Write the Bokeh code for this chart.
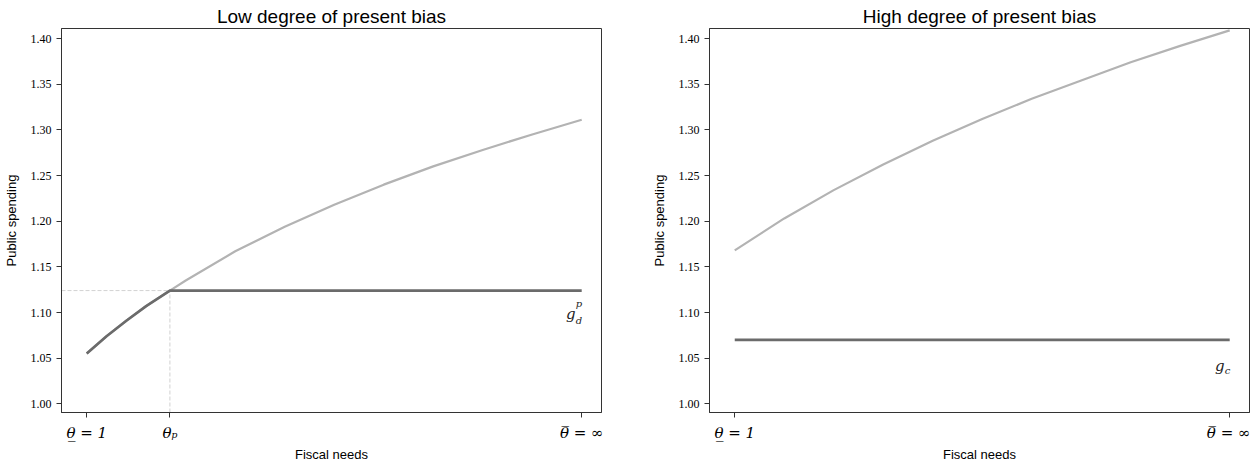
from bokeh.plotting import figure
from bokeh.layouts import row
from bokeh.models import FixedTicker, PrintfTickFormatter, Range1d
from bokeh.core.properties import value
from bokeh.embed import file_html
from bokeh.resources import INLINE

# ---------------- data ----------------
# normalised fiscal-needs axis: 0 = theta_low (=1), 1 = theta_bar (=inf)
x_low = [0.0, 0.04, 0.08, 0.12, 0.168, 0.2, 0.3, 0.4, 0.5, 0.6, 0.7, 0.8, 0.9, 1.0]
g_low_unconstrained = [1.055, 1.074, 1.091, 1.107, 1.124, 1.135, 1.167, 1.194,
                       1.218, 1.240, 1.260, 1.278, 1.295, 1.311]
theta_p = 0.168
g_low_cap = 1.124

x_high = [0.0, 0.1, 0.2, 0.3, 0.4, 0.5, 0.6, 0.7, 0.8, 0.9, 1.0]
g_high_unconstrained = [1.168, 1.203, 1.234, 1.262, 1.288, 1.312, 1.334,
                        1.354, 1.374, 1.392, 1.409]
g_high_c = 1.070

x_ticks_low = [0.0, theta_p, 1.0]
x_labels_low = ["θ̲ = 1", "θₚ", "θ̅ = ∞"]
x_ticks_high = [0.0, 1.0]
x_labels_high = ["θ̲ = 1", "θ̅ = ∞"]
y_ticks = [1.00, 1.05, 1.10, 1.15, 1.20, 1.25, 1.30, 1.35, 1.40]

titles = ["Low degree of present bias", "High degree of present bias"]
x_label = "Fiscal needs"
y_label = "Public spending"

LIGHT = "#b3b3b3"
DARK = "#6b6b6b"
GUIDE = "#d2d2d2"
FRAME = "#333333"
SANS = "Liberation Sans"
SERIF = "Liberation Serif"
MATH = "DejaVu Serif"

X_RANGE = (-0.051, 1.040)
Y_RANGE = (0.9905, 1.411)


def make_fig(title, ticks, labels, frame_w, bl, br):
    p = figure(frame_width=frame_w, frame_height=384,
               min_border_left=bl, min_border_right=br,
               min_border_top=28, min_border_bottom=40,
               x_range=Range1d(*X_RANGE), y_range=Range1d(*Y_RANGE),
               output_backend="svg", toolbar_location=None)
    p.title.text = title
    p.title.align = "center"
    p.title.text_font = SANS
    p.title.text_font_size = "19px"
    p.title.text_font_style = "normal"
    p.title.text_color = "#000000"
    p.title.standoff = 4
    p.xgrid.visible = False
    p.ygrid.visible = False
    p.outline_line_color = FRAME
    p.outline_line_width = 1
    p.outline_line_alpha = 1.0
    p.background_fill_color = "white"
    p.border_fill_color = "white"

    p.xaxis.ticker = FixedTicker(ticks=ticks)
    p.xaxis.major_label_overrides = {t: l for t, l in zip(ticks, labels)}
    p.yaxis.ticker = FixedTicker(ticks=y_ticks)
    p.yaxis.formatter = PrintfTickFormatter(format="%.2f")
    for ax in (p.xaxis, p.yaxis):
        ax.axis_line_color = FRAME
        ax.major_tick_line_color = FRAME
        ax.minor_tick_line_color = None
        ax.major_tick_in = 0
        ax.major_tick_out = 5
        ax.major_label_text_color = "#000000"
        ax.axis_label_text_font = SANS
        ax.axis_label_text_font_style = "normal"
        ax.axis_label_text_font_size = "13px"
        ax.axis_label_text_color = "#000000"
    p.xaxis.major_label_text_font = MATH
    p.xaxis.major_label_text_font_style = "italic"
    p.yaxis.major_label_text_font = SERIF
    p.xaxis.major_label_text_font_size = "15px"
    p.yaxis.major_label_text_font_size = "12px"
    p.xaxis.major_label_standoff = 6
    p.yaxis.major_label_standoff = 5
    p.xaxis.axis_label = x_label
    p.yaxis.axis_label = y_label
    p.xaxis.axis_label_standoff = 2
    p.yaxis.axis_label_standoff = 9
    return p


# ---------------- left panel ----------------
p1 = make_fig(titles[0], x_ticks_low, x_labels_low, 540, 61, 47)
p1.line([X_RANGE[0], theta_p], [g_low_cap, g_low_cap], line_color=GUIDE,
        line_width=1, line_dash="4 2")
p1.line([theta_p, theta_p], [Y_RANGE[0], g_low_cap], line_color=GUIDE,
        line_width=1, line_dash="4 2")
p1.line(x_low, g_low_unconstrained, line_color=LIGHT, line_width=2.2)
dark_x = [x for x in x_low if x <= theta_p] + [x_low[-1]]
dark_y = [min(g, g_low_cap) for x, g in zip(x_low, g_low_unconstrained) if x <= theta_p] + [g_low_cap]
p1.line(dark_x, dark_y, line_color=DARK, line_width=2.7)

p1.text(x=[x_low[-1]], y=[g_low_cap - 0.026], text=["g"], text_align="right",
        text_baseline="middle", x_offset=-6,
        text_font=value(MATH), text_font_style="italic", text_font_size="15px",
        text_color="#222222")
p1.text(x=[x_low[-1]], y=[g_low_cap - 0.014], text=["p"], text_align="left",
        text_baseline="middle", x_offset=-6,
        text_font=value(MATH), text_font_style="italic", text_font_size="10px",
        text_color="#222222")
p1.text(x=[x_low[-1]], y=[g_low_cap - 0.033], text=["d"], text_align="left",
        text_baseline="middle", x_offset=-6,
        text_font=value(MATH), text_font_style="italic", text_font_size="10px",
        text_color="#222222")

# ---------------- right panel ----------------
p2 = make_fig(titles[1], x_ticks_high, x_labels_high, 540, 59, 1)
p2.line(x_high, g_high_unconstrained, line_color=LIGHT, line_width=2.2)
p2.line([x_high[0], x_high[-1]], [g_high_c, g_high_c], line_color=DARK, line_width=2.7)
p2.text(x=[x_high[-1]], y=[g_high_c - 0.029], text=["g"], text_align="right",
        text_baseline="middle", x_offset=-5,
        text_font=value(MATH), text_font_style="italic", text_font_size="15px",
        text_color="#222222")
p2.text(x=[x_high[-1]], y=[g_high_c - 0.033], text=["c"], text_align="left",
        text_baseline="middle", x_offset=-5,
        text_font=value(MATH), text_font_style="italic", text_font_size="10px",
        text_color="#222222")

layout = row(p1, p2)
open("out.html", "w").write(file_html(layout, INLINE))
